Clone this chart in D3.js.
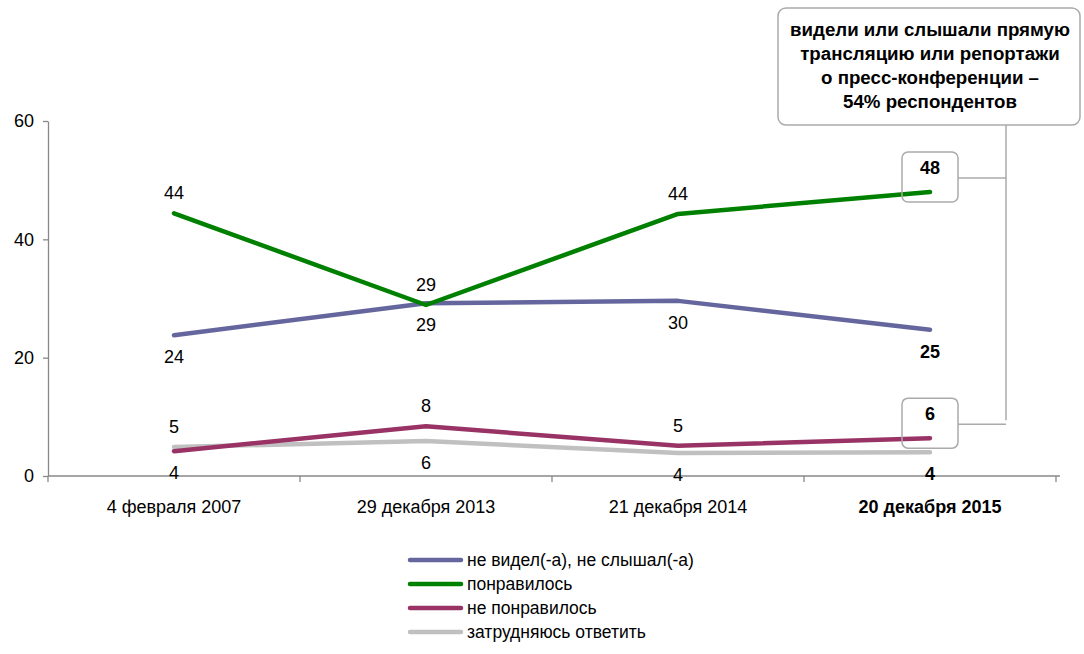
<!DOCTYPE html>
<html><head><meta charset="utf-8">
<script src="https://cdn.jsdelivr.net/npm/d3@7"></script>
<style>
html,body{margin:0;padding:0;background:#fff;}
svg{display:block;font-family:"Liberation Sans",Arial,sans-serif;}
</style></head>
<body><svg id="c" width="1084" height="654"></svg>
<script>
const categories = ["4 февраля 2007","29 декабря 2013","21 декабря 2014","20 декабря 2015"];
const seriesNames = ["не видел(-а), не слышал(-а)","понравилось","не понравилось","затрудняюсь ответить"];
const notSeen   = [23.8, 29.2, 29.6, 24.7];
const liked     = [44.4, 28.9, 44.3, 48.0];
const disliked  = [4.2, 8.4, 5.1, 6.4];
const unsure    = [4.9, 5.9, 3.9, 4.0];
const yTicks = [0, 20, 40, 60];
const annotation = ["видели или слышали прямую","трансляцию или репортажи","о пресс-конференции –","54% респондентов"];

const colors = ["#66669e","#008000","#993366","#c0c0c0"];
// label placement per series/point: -1 above, +1 below, 0 boxed
const placement = [
  [1, 1, 1, 1],
  [-1, -1, -1, 0],
  [1, -1, -1, 0],
  [-1, 1, 1, 1]
];
const seriesData = [notSeen, liked, disliked, unsure];

const svg = d3.select("#c");
const x0 = 48, x1 = 1056, yTop = 121, yBot = 476;
const x = d3.scaleBand().domain(categories).range([x0, x1]);
const y = d3.scaleLinear().domain([0, 60]).range([yBot, yTop]);
const cx = c => x(c) + x.bandwidth()/2;

// axes
const yAxis = svg.append("g").attr("transform",`translate(${x0},0)`)
  .call(d3.axisLeft(y).tickValues(yTicks).tickSize(5).tickSizeOuter(0));
yAxis.select(".domain").attr("stroke","#888").attr("stroke-width",1.3);
yAxis.selectAll(".tick line").attr("stroke","#888").attr("stroke-width",1.3);
yAxis.selectAll(".tick text").attr("font-size",18).attr("fill","#000").attr("x",-14);

const xAxisG = svg.append("g").attr("transform",`translate(0,${yBot})`);
xAxisG.append("line").attr("x1",x0).attr("x2",x1+4).attr("stroke","#888").attr("stroke-width",1.3);
const bounds = categories.map(c => x(c)).concat([x1]);
xAxisG.selectAll("line.t").data(bounds).join("line").attr("class","t")
  .attr("x1",d=>d).attr("x2",d=>d).attr("y1",0).attr("y2",6).attr("stroke","#888").attr("stroke-width",1.3);
xAxisG.selectAll("text").data(categories).join("text")
  .attr("x",d=>cx(d)).attr("y",37).attr("text-anchor","middle").attr("font-size",18)
  .attr("font-weight",(d,i)=>i===categories.length-1?"bold":"normal").text(d=>d);

// lines
const line = d3.line().x((d,i)=>cx(categories[i])).y(d=>y(d));
const drawOrder = [3,2,0,1];
drawOrder.forEach(s => {
  svg.append("path").datum(seriesData[s]).attr("d",line).attr("fill","none")
    .attr("stroke",colors[s]).attr("stroke-width",4.5).attr("stroke-linecap","round").attr("stroke-linejoin","round");
});

// annotation connectors
const connX = 1006;
const boxW = 56, boxH = 50;
svg.append("line").attr("x1",connX).attr("x2",connX).attr("y1",125).attr("y2",y(disliked[3])-18).attr("stroke","#aaa").attr("stroke-width",1.5);
[[liked,1],[disliked,2]].forEach(([arr,s])=>{
  const px = cx(categories[3]);
  const ly = y(arr[3]) - 14;
  svg.append("line").attr("x1",px+28).attr("x2",connX).attr("y1",ly).attr("y2",ly).attr("stroke","#aaa").attr("stroke-width",1.5);
  svg.append("rect").attr("x",px-28).attr("y",ly-26).attr("width",boxW).attr("height",boxH).attr("rx",6)
    .attr("fill","none").attr("stroke","#aaa").attr("stroke-width",1.5);
  svg.append("text").attr("x",px).attr("y",ly-4).attr("text-anchor","middle").attr("font-size",18).attr("font-weight","bold").text(Math.round(arr[3]));
});

// labels
seriesData.forEach((arr,s)=>{
  arr.forEach((v,i)=>{
    const p = placement[s][i];
    if (p===0) return;
    const last = i===categories.length-1;
    svg.append("text").attr("x",cx(categories[i])).attr("y",y(v)+ (p<0 ? -14 : 28))
      .attr("text-anchor","middle").attr("font-size",18).attr("font-weight",last?"bold":"normal")
      .text(Math.round(v));
  });
});

// big annotation box
svg.append("rect").attr("x",778).attr("y",8).attr("width",302).attr("height",117).attr("rx",8)
  .attr("fill","#fff").attr("stroke","#aaa").attr("stroke-width",1.5);
svg.append("g").selectAll("text").data(annotation).join("text")
  .attr("x",930).attr("y",(d,i)=>36+i*24).attr("text-anchor","middle").attr("font-size",18.7).attr("font-weight","bold").text(d=>d);

// legend
const lg = svg.append("g");
seriesNames.forEach((n,i)=>{
  const ly = 560 + i*24;
  lg.append("line").attr("x1",410).attr("x2",461).attr("y1",ly).attr("y2",ly).attr("stroke",colors[i]).attr("stroke-width",4.5).attr("stroke-linecap","round");
  lg.append("text").attr("x",467).attr("y",ly+6).attr("font-size",17.5).text(n);
});
</script></body></html>
